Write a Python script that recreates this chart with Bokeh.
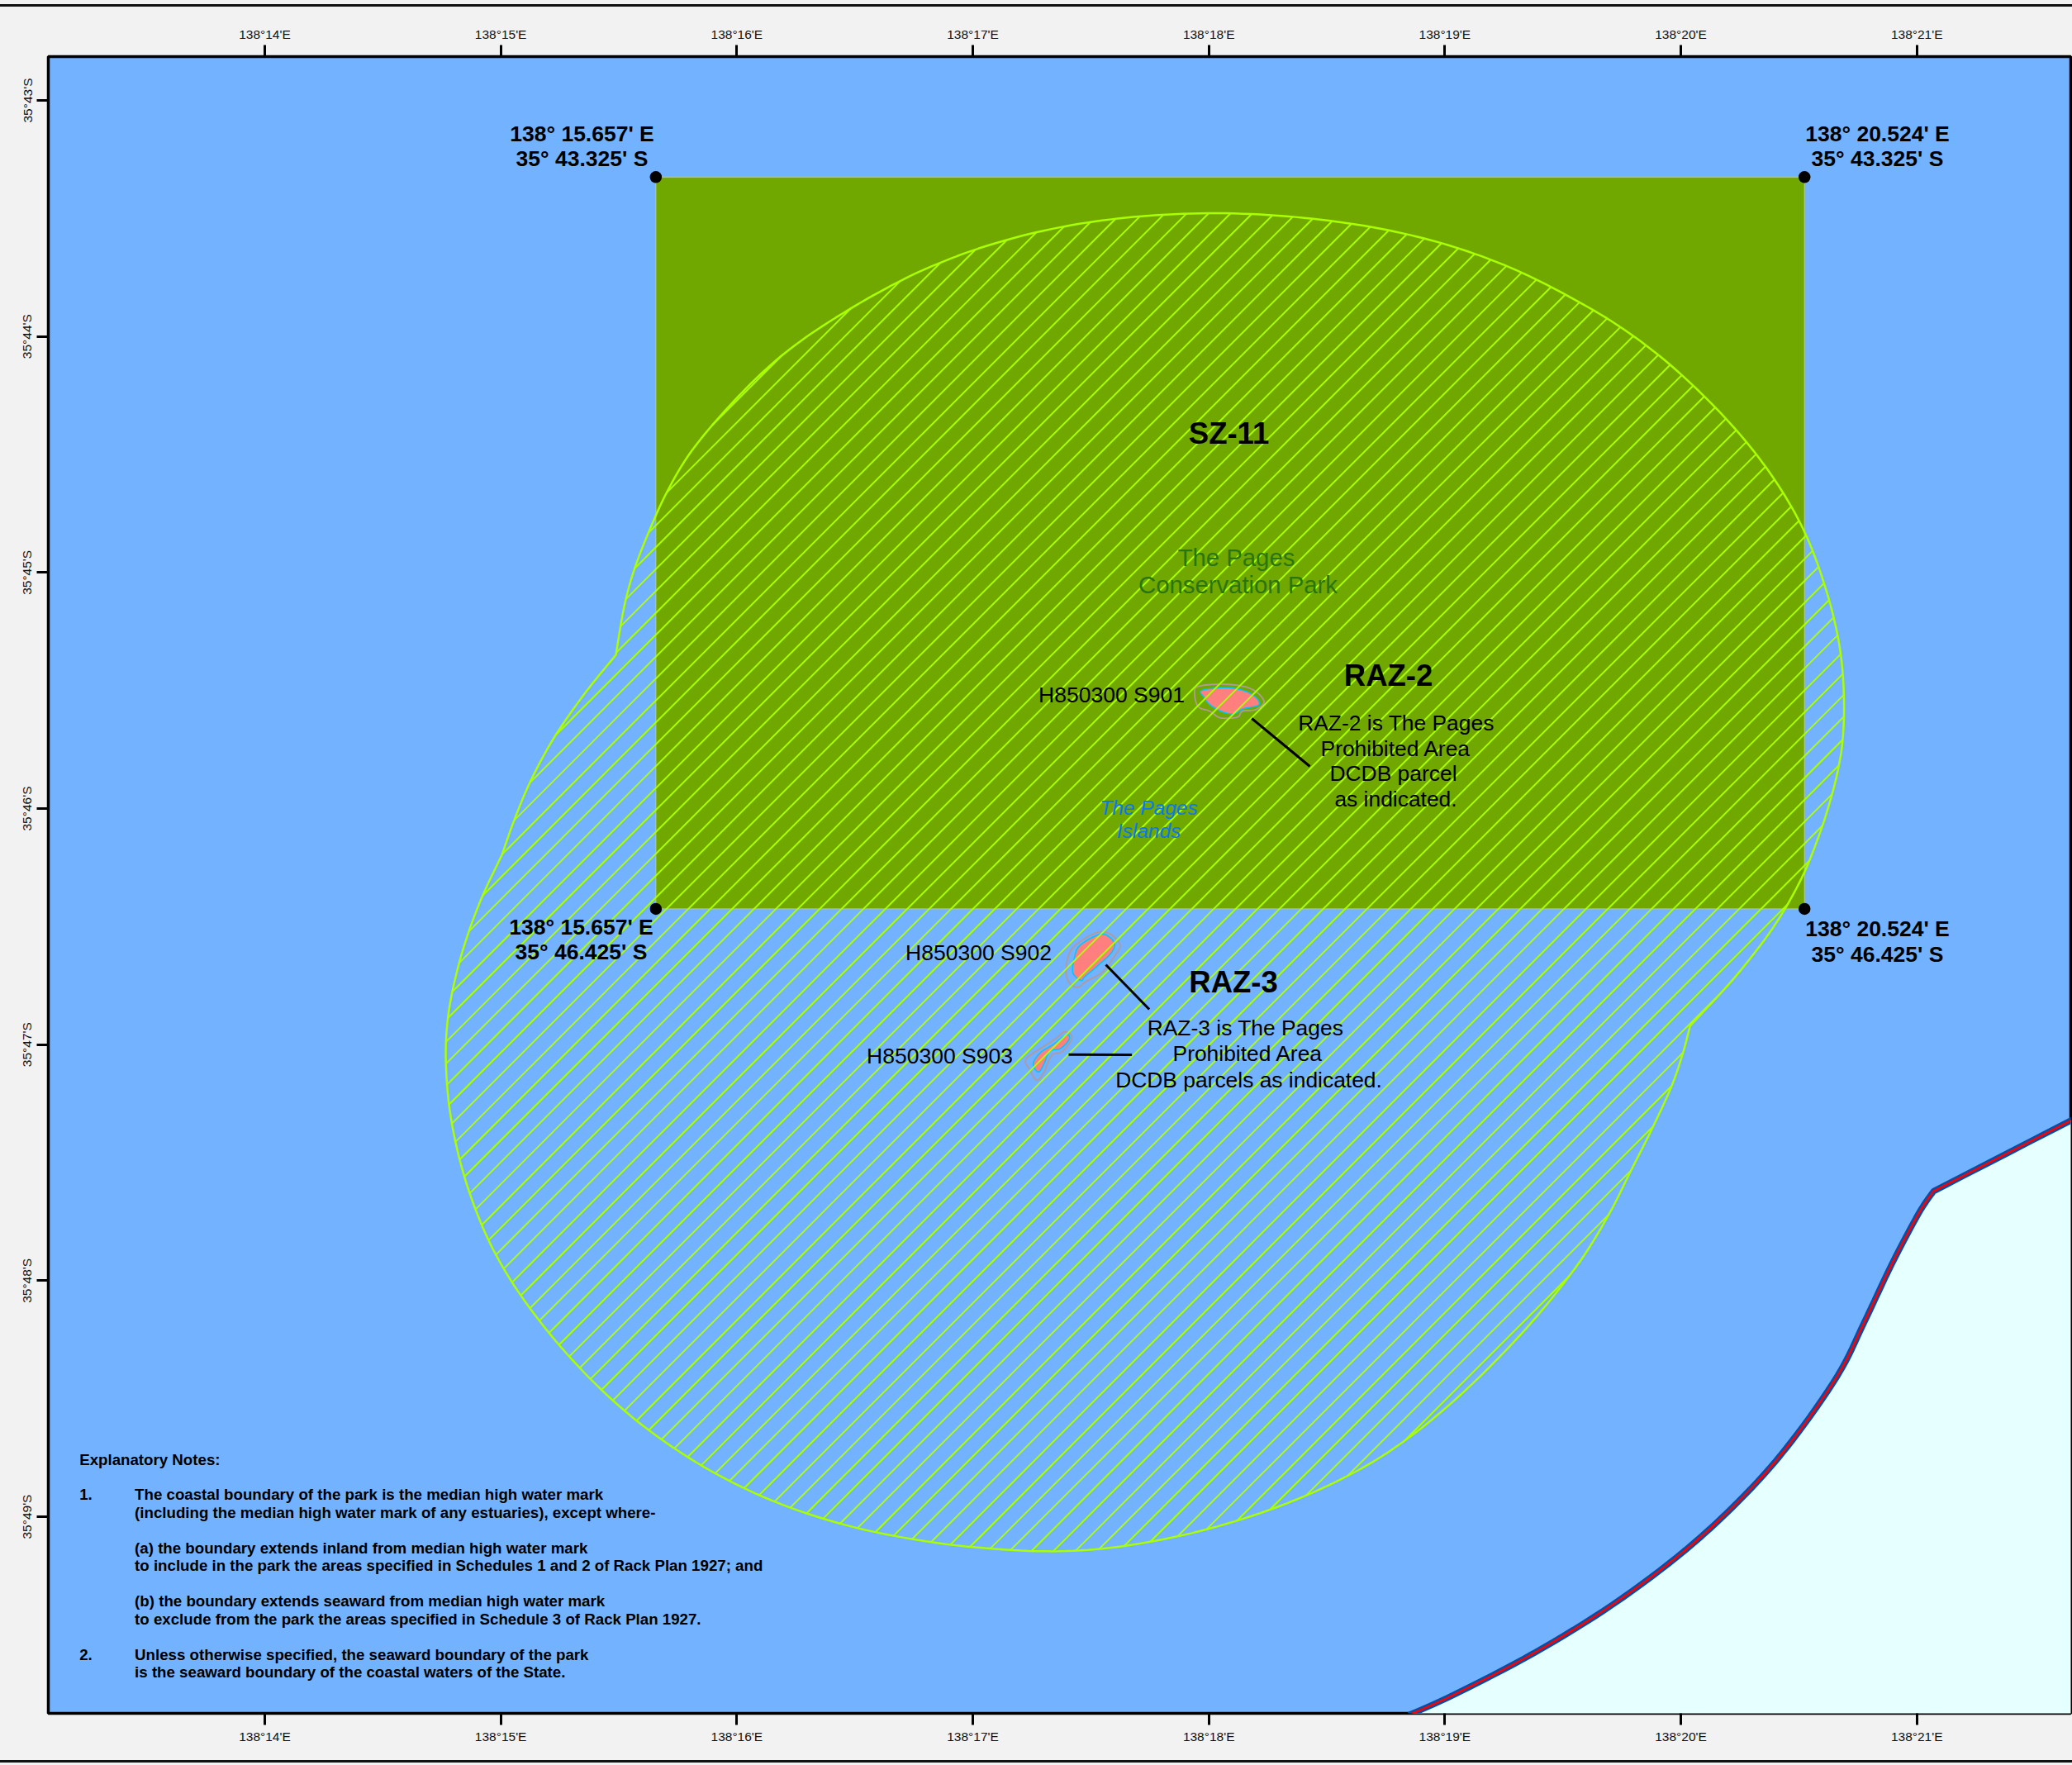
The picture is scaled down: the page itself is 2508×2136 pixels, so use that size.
import numpy as np
from bokeh.plotting import figure
from bokeh.embed import file_html
from bokeh.resources import INLINE
from bokeh.models import Range1d, LinearAxis, FixedTicker
from bokeh.core.properties import value

# ---- data: longitude minutes past 138 deg E, latitude minutes past 35 deg S ----
lon_ticks = [14, 15, 16, 17, 18, 19, 20, 21]
lat_ticks = [43, 44, 45, 46, 47, 48, 49]
lon_labels = ["138°%d'E" % m for m in lon_ticks]
lat_labels = ["35°%d'S" % m for m in lat_ticks]

corner_lon = [15.657, 20.524, 20.524, 15.657]
corner_lat = [43.325, 43.325, 46.425, 46.425]

raz_lon = [18.068, 18.358, 18.684, 18.915, 19.135, 19.328, 19.517, 19.748, 19.913, 20.151, 20.287, 20.441, 20.536,
           20.613, 20.667, 20.686, 20.697, 20.686, 20.669, 20.646, 20.602, 20.518, 20.410, 20.228, 20.039, 20.014,
           19.972, 19.892, 19.778, 19.703, 19.583, 19.338, 19.037, 18.771, 18.568, 18.246, 17.977, 17.644, 17.431,
           17.200, 16.843, 16.485, 16.181, 15.915, 15.684, 15.477, 15.281, 15.085, 14.977, 14.889, 14.823, 14.774,
           14.763, 14.770, 14.789, 14.844, 14.910, 15.005, 15.048, 15.127, 15.208, 15.362, 15.488, 15.505, 15.526,
           15.558, 15.621, 15.708, 15.789, 15.950, 16.156, 16.244, 16.520, 16.710, 16.870, 17.021, 17.280, 17.501,
           17.781]
raz_lat = [43.473, 43.487, 43.529, 43.581, 43.648, 43.725, 43.823, 43.956, 44.073, 44.299, 44.449, 44.659, 44.838,
           45.041, 45.268, 45.370, 45.604, 45.727, 45.829, 45.927, 46.074, 46.308, 46.487, 46.732, 46.921, 47.022,
           47.166, 47.334, 47.547, 47.715, 47.925, 48.226, 48.527, 48.731, 48.846, 48.986, 49.063, 49.133, 49.147,
           49.150, 49.119, 49.053, 48.955, 48.829, 48.685, 48.517, 48.328, 48.072, 47.904, 47.701, 47.502, 47.267,
           47.068, 46.900, 46.788, 46.564, 46.385, 46.196, 46.063, 45.874, 45.713, 45.496, 45.349, 45.237, 45.121,
           44.995, 44.838, 44.642, 44.495, 44.306, 44.103, 44.033, 43.851, 43.753, 43.683, 43.623, 43.550, 43.511,
           43.480]
raz_corners = [24, 57, 62]  # vertices where two buffer arcs meet

coast_lon = [18.848, 19.041, 19.377, 19.713, 20.021, 20.273, 20.469, 20.665, 20.777, 20.893, 21.008, 21.071, 21.700]
coast_lat = [49.840, 49.753, 49.578, 49.371, 49.140, 48.906, 48.681, 48.401, 48.177, 47.932, 47.715, 47.621, 47.297]
coast_corners = [11]

s901_lon = [17.971, 18.081, 18.174, 18.214, 18.143, 18.104, 18.050, 18.003, 17.979]
s901_lat = [45.499, 45.488, 45.511, 45.558, 45.578, 45.599, 45.587, 45.558, 45.528]
s901_halo_lon = [17.956, 18.081, 18.182, 18.234, 18.198, 18.143, 18.120, 18.050, 18.003, 17.956, 17.940]
s901_halo_lat = [45.482, 45.474, 45.494, 45.546, 45.581, 45.587, 45.613, 45.616, 45.587, 45.569, 45.517]
s902_lon = [17.545, 17.599, 17.587, 17.529, 17.474, 17.459, 17.424, 17.431, 17.455]
s902_lat = [46.532, 46.567, 46.611, 46.666, 46.713, 46.728, 46.696, 46.631, 46.579]
s902_halo_lon = [17.545, 17.623, 17.592, 17.545, 17.482, 17.443, 17.404, 17.396, 17.428]
s902_halo_lat = [46.521, 46.573, 46.637, 46.696, 46.731, 46.757, 46.731, 46.666, 46.585]
s903_lon = [17.396, 17.409, 17.373, 17.326, 17.302, 17.278, 17.256, 17.287, 17.342]
s903_lat = [46.958, 46.976, 47.016, 47.028, 47.081, 47.116, 47.081, 47.034, 46.999]
s903_halo_lon = [17.389, 17.420, 17.381, 17.334, 17.302, 17.271, 17.240, 17.224, 17.287, 17.349]
s903_halo_lat = [46.946, 46.970, 47.028, 47.046, 47.116, 47.151, 47.104, 47.063, 47.016, 46.976]

# ---- layout and style ----
W, H = 2508, 2136
L, R, T, B = 58, 2, 68, 63
PX_PER_MIN = 285.67


def lon_at(page_x):
    return 14 + (page_x - 320) / PX_PER_MIN


def lat_at(page_y):
    return 43 + (page_y - 121) / PX_PER_MIN


def rounded(lon, lat, corners=(), closed=False, n=8, passes=0):
    """Draw a Catmull-Rom curve through the read vertices, keeping sharp corners.
    `passes` evens out reading noise in the vertices before the curve is drawn."""
    pts = np.column_stack([lon, lat]).astype(float)
    m = len(pts)
    for _ in range(passes):
        new = pts.copy()
        for i in range(m):
            if i in corners or (not closed and i in (0, m - 1)):
                continue
            new[i] = 0.25 * pts[(i - 1) % m] + 0.5 * pts[i] + 0.25 * pts[(i + 1) % m]
        pts = new
    out = []
    last = m if closed else m - 1
    for i in range(last):
        p1, p2 = pts[i], pts[(i + 1) % m]
        p0 = pts[(i - 1) % m] if (closed or i > 0) and i not in corners else p1
        j = (i + 1) % m
        p3 = pts[(i + 2) % m] if (closed or i + 2 < m) and j not in corners else p2
        for t in np.linspace(0, 1, n, endpoint=False):
            t2, t3 = t * t, t * t * t
            out.append(0.5 * (2 * p1 + (p2 - p0) * t + (2 * p0 - 5 * p1 + 4 * p2 - p3) * t2
                              + (3 * p1 - p0 - 3 * p2 + p3) * t3))
    if not closed:
        out.append(pts[-1])
    out = np.array(out)
    return out[:, 0], out[:, 1]


WATER, PARK, LAND, HATCH = "#73b2ff", "#70a800", "#e6ffff", "#aaff00"
ISLAND, EDGE, HALO = "#ff7f7f", "#00c5ff", "#b09a9a"

p = figure(width=W, height=H, output_backend="svg", toolbar_location=None,
           x_range=Range1d(lon_at(L), lon_at(W - R)),
           y_range=Range1d(lat_at(H - B), lat_at(T)),
           min_border_left=L, min_border_right=R, min_border_top=T, min_border_bottom=B,
           frame_width=W - L - R, frame_height=H - T - B,
           background_fill_color=WATER, border_fill_color="#f2f2f2")
p.grid.visible = False
p.outline_line_color = "black"
p.outline_line_width = 3.5


def style_axis(ax, ticks, labels, standoff):
    ax.ticker = FixedTicker(ticks=ticks)
    ax.major_label_overrides = dict(zip(ticks, labels))
    ax.major_label_text_font = "Liberation Sans"
    ax.major_label_text_font_size = "15.5px"
    ax.major_label_text_color = "#111111"
    ax.major_label_standoff = standoff
    ax.major_tick_in = 0
    ax.major_tick_out = 14
    ax.major_tick_line_width = 3
    ax.major_tick_line_color = "black"
    ax.minor_tick_line_color = None
    ax.axis_line_color = None


style_axis(p.xaxis[0], lon_ticks, lon_labels, 5)
top_axis = LinearAxis()
style_axis(top_axis, lon_ticks, lon_labels, 5)
p.add_layout(top_axis, "above")
style_axis(p.yaxis[0], lat_ticks, lat_labels, 3)
p.yaxis[0].major_label_orientation = "vertical"

# land
land_x, land_y = rounded(coast_lon, coast_lat, coast_corners)
p.patch(list(land_x) + [coast_lon[-1], coast_lon[0]], list(land_y) + [50.0, 50.0], fill_color=LAND, line_color=None)

# sanctuary zone rectangle
p.patch(corner_lon, corner_lat, fill_color=PARK, line_color="#b4cc96", line_width=1)

# islands
for lon, lat, hlon, hlat in [(s901_lon, s901_lat, s901_halo_lon, s901_halo_lat),
                             (s902_lon, s902_lat, s902_halo_lon, s902_halo_lat),
                             (s903_lon, s903_lat, s903_halo_lon, s903_halo_lat)]:
    hx_, hy_ = rounded(hlon, hlat, closed=True)
    ix_, iy_ = rounded(lon, lat, closed=True)
    p.patch(hx_, hy_, fill_color=None, line_color=HALO, line_width=1.8)
    p.patch(ix_, iy_, fill_color=ISLAND, line_color=EDGE, line_width=1.5)

# 45 degree hatching clipped to the restricted zone outline
HATCH_PHASE = 62.220
HATCH_STEP = 26.5 / PX_PER_MIN
rx, ry = rounded(raz_lon, raz_lat, raz_corners, closed=True, passes=1)
px, py = np.append(rx, rx[0]), np.append(ry, ry[0])
sums = px + py
hx, hy = [], []
first = HATCH_PHASE + HATCH_STEP * np.floor((sums.min() - HATCH_PHASE) / HATCH_STEP)
for c in np.arange(first, sums.max() + HATCH_STEP, HATCH_STEP):
    a, b = sums[:-1] - c, sums[1:] - c
    idx = np.where(a * b < 0)[0]
    t = a[idx] / (a[idx] - b[idx])
    xs = np.sort(px[idx] + t * (px[idx + 1] - px[idx]))
    for x0, x1 in zip(xs[::2], xs[1::2]):
        hx.append([x0, x1])
        hy.append([c - x0, c - x1])
p.multi_line(hx, hy, line_color=HATCH, line_width=2)
p.patch(rx, ry, fill_color=None, line_color=HATCH, line_width=2.5)

# coast
p.line(land_x, land_y, line_color="#0a4ea3", line_width=7.5)
p.line(land_x, land_y, line_color="#ff0000", line_width=2.5)

# leader lines (page px)
leaders = [((1514.7, 869), (1585, 927)), ((1338, 1167), (1390.6, 1221)), ((1293, 1275.7), (1369.6, 1276))]
p.multi_line([[lon_at(a[0]), lon_at(b[0])] for a, b in leaders],
             [[lat_at(a[1]), lat_at(b[1])] for a, b in leaders],
             line_color="black", line_width=3)

# corner dots
p.scatter(corner_lon, corner_lat, size=14.5, marker="circle", fill_color="black", line_color=None)

# labels: text, page x, page y, px size, style, colour
SANS = "Liberation Sans"
labels = [
    ("138° 15.657' E", 704, 161, 26.5, "bold", "black"), ("35° 43.325' S", 704, 191, 26.5, "bold", "black"),
    ("138° 20.524' E", 2272, 161, 26.5, "bold", "black"), ("35° 43.325' S", 2272, 191, 26.5, "bold", "black"),
    ("138° 15.657' E", 703, 1121, 26.5, "bold", "black"), ("35° 46.425' S", 703, 1151.5, 26.5, "bold", "black"),
    ("138° 20.524' E", 2272, 1123, 26.5, "bold", "black"), ("35° 46.425' S", 2272, 1154, 26.5, "bold", "black"),
    ("SZ-11", 1487, 524, 36.5, "bold", "black"),
    ("RAZ-2", 1680, 816.5, 36.5, "bold", "black"),
    ("RAZ-3", 1492.5, 1188, 36.5, "bold", "black"),
    ("The Pages", 1496, 674, 29.3, "normal", "#2a7510"),
    ("Conservation Park", 1498, 707, 29.3, "normal", "#2a7510"),
    ("H850300 S901", 1345, 840, 26.5, "normal", "black"),
    ("H850300 S902", 1184, 1152, 26.5, "normal", "black"),
    ("H850300 S903", 1137, 1277.5, 26.5, "normal", "black"),
    ("RAZ-2 is The Pages", 1689.5, 874.5, 26.4, "normal", "black"),
    ("Prohibited Area", 1689, 905.5, 26.4, "normal", "black"),
    ("DCDB parcel", 1686, 935.5, 26.4, "normal", "black"),
    ("as indicated.", 1689, 966.5, 26.4, "normal", "black"),
    ("RAZ-3 is The Pages", 1507, 1243.5, 26.4, "normal", "black"),
    ("Prohibited Area", 1510, 1274.5, 26.4, "normal", "black"),
    ("DCDB parcels as indicated.", 1511, 1306, 26.4, "normal", "black"),
    ("The Pages", 1390, 977, 24.5, "italic", "#0a78f0"),
    ("Islands", 1390, 1005, 24.5, "italic", "#0a78f0"),
]
for txt, x, y, size, style, col in labels:
    p.text([lon_at(x)], [lat_at(y)], text=[txt], text_font=value(SANS), text_font_size="%.1fpx" % size,
           text_font_style=style, text_color=col, text_align="center", text_baseline="middle")

notes = [
    ("Explanatory Notes:", 95.7, 1766),
    ("1.", 95.7, 1808),
    ("The coastal boundary of the park is the median high water mark", 162.6, 1808),
    ("(including the median high water mark of any estuaries), except where-", 162.6, 1830),
    ("(a) the boundary extends inland from median high water mark", 162.6, 1873),
    ("to include in the park the areas specified in Schedules 1 and 2 of Rack Plan 1927; and", 162.6, 1894),
    ("(b) the boundary extends seaward from median high water mark", 162.6, 1937),
    ("to exclude from the park the areas specified in Schedule 3 of Rack Plan 1927.", 162.6, 1959),
    ("2.", 95.7, 2002),
    ("Unless otherwise specified, the seaward boundary of the park", 162.6, 2002),
    ("is the seaward boundary of the coastal waters of the State.", 162.6, 2023),
]
for txt, x, y in notes:
    p.text([lon_at(x)], [lat_at(y)], text=[txt], text_font=value(SANS), text_font_size="18.7px",
           text_font_style="bold", text_color="black", text_align="left", text_baseline="middle")

# page background and the two page rules above and below the map
page_css = ("<style>body{background:#f2f2f2}"
            "body::before,body::after{content:'';position:fixed;left:0;width:100%;height:3px;"
            "background:#111;z-index:10}"
            "body::before{top:5px}body::after{top:2130px}</style>")
html = file_html(p, INLINE)
html = html.replace("<head>", "<head>" + page_css, 1)
open("out.html", "w").write(html)
